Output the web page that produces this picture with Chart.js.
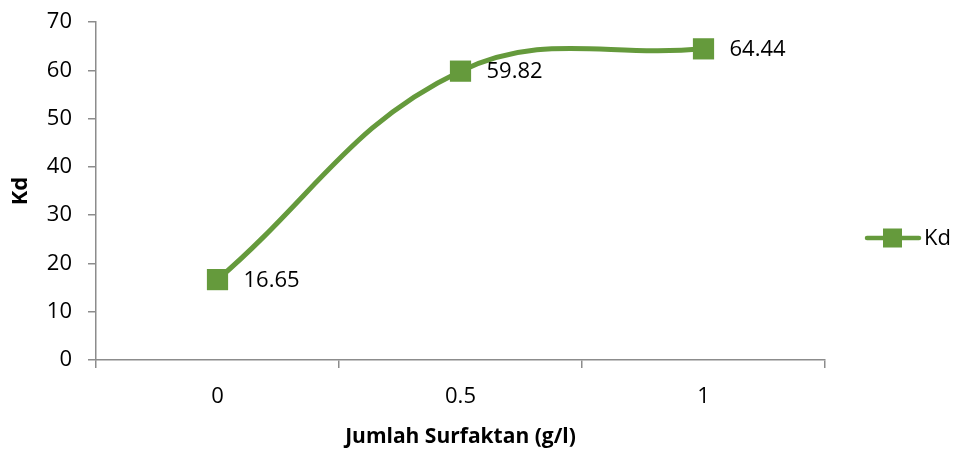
<!DOCTYPE html>
<html>
<head>
<meta charset="utf-8">
<script src="https://cdn.jsdelivr.net/npm/chart.js@4/dist/chart.umd.min.js"></script>
<style>
  html, body { margin: 0; padding: 0; background: #ffffff; }
  #wrap { width: 956px; height: 450px; position: relative; }
</style>
</head>
<body>
<div id="wrap"><canvas id="c" width="956" height="450"></canvas></div>
<script>
// Surfactant amount (g/l) and the measured Kd for each
const categories = ['0', '0.5', '1'];
const kdValues = [16.65, 59.82, 64.44];
const yTicks = [0, 10, 20, 30, 40, 50, 60, 70];

const seriesName = 'Kd';
const xTitle = 'Jumlah Surfaktan (g/l)';
const yTitle = 'Kd';

const GREEN = '#659A3C';
const AXIS = '#8C8C8C';
const FONT = "'Open Sans', 'Liberation Sans', sans-serif";

// Value labels to the right of each marker
const valueLabels = {
  id: 'valueLabels',
  afterDatasetsDraw(chart) {
    const ctx = chart.ctx;
    const meta = chart.getDatasetMeta(0);
    const data = chart.data.datasets[0].data;
    ctx.save();
    ctx.font = '22px ' + FONT;
    ctx.fillStyle = '#000000';
    ctx.textAlign = 'left';
    ctx.textBaseline = 'middle';
    meta.data.forEach((pt, i) => {
      ctx.fillText(data[i].toFixed(2), pt.x + 26, pt.y + 1);
    });
    ctx.restore();
  }
};

// Legend on the right: line segment with a square marker and the series name
const sideLegend = {
  id: 'sideLegend',
  afterDraw(chart) {
    const ctx = chart.ctx;
    const ds = chart.data.datasets[0];
    const cy = 238;
    ctx.save();
    ctx.strokeStyle = ds.borderColor;
    ctx.lineWidth = 4.5;
    ctx.lineCap = 'round';
    ctx.beginPath();
    ctx.moveTo(867, cy);
    ctx.lineTo(919, cy);
    ctx.stroke();
    ctx.fillStyle = ds.pointBackgroundColor;
    ctx.fillRect(883, cy - 9.5, 19, 19);
    ctx.font = '22px ' + FONT;
    ctx.fillStyle = '#000000';
    ctx.textAlign = 'left';
    ctx.textBaseline = 'middle';
    ctx.fillText(ds.label, 924, cy + 1);
    ctx.restore();
  }
};

new Chart(document.getElementById('c'), {
  type: 'line',
  data: {
    labels: categories,
    datasets: [{
      label: seriesName,
      data: kdValues,
      borderColor: GREEN,
      backgroundColor: GREEN,
      pointBackgroundColor: GREEN,
      pointBorderColor: GREEN,
      borderWidth: 5,
      tension: 0.4,
      pointStyle: 'rect',
      pointRadius: 15,
      pointBorderWidth: 0,
      pointHoverRadius: 15,
      fill: false
    }]
  },
  options: {
    responsive: false,
    animation: false,
    events: [],
    layout: { padding: { left: 0, right: 131, top: 22, bottom: 0 } },
    plugins: {
      legend: { display: false },
      tooltip: { enabled: false }
    },
    scales: {
      x: {
        type: 'category',
        offset: true,
        grid: {
          offset: true,
          display: true,
          drawOnChartArea: false,
          drawTicks: true,
          tickLength: 8,
          color: AXIS,
          lineWidth: 1.5
        },
        border: { display: true, color: AXIS, width: 1.5 },
        ticks: {
          color: '#000000',
          font: { family: FONT, size: 22 },
          padding: 16
        },
        title: {
          display: true,
          text: xTitle,
          color: '#000000',
          font: { family: FONT, size: 21, weight: 'bold' },
          padding: { top: 4, bottom: 0 }
        },
        afterFit(scale) { scale.height = 90; }
      },
      y: {
        min: 0,
        max: 70,
        afterBuildTicks(scale) { scale.ticks = yTicks.map(v => ({ value: v })); },
        grid: {
          display: true,
          drawOnChartArea: false,
          drawTicks: true,
          tickLength: 8,
          color: AXIS,
          lineWidth: 1.5
        },
        border: { display: true, color: AXIS, width: 1.5 },
        ticks: {
          color: '#000000',
          font: { family: FONT, size: 22 },
          padding: 16
        },
        title: {
          display: true,
          text: yTitle,
          color: '#000000',
          font: { family: FONT, size: 22, weight: 'bold' },
          padding: { top: 8, bottom: 0 }
        },
        afterFit(scale) {
          scale.width = 96;
          scale.paddingTop = 0;
          scale.paddingBottom = 0;
        }
      }
    }
  },
  plugins: [valueLabels, sideLegend]
});
</script>
</body>
</html>
